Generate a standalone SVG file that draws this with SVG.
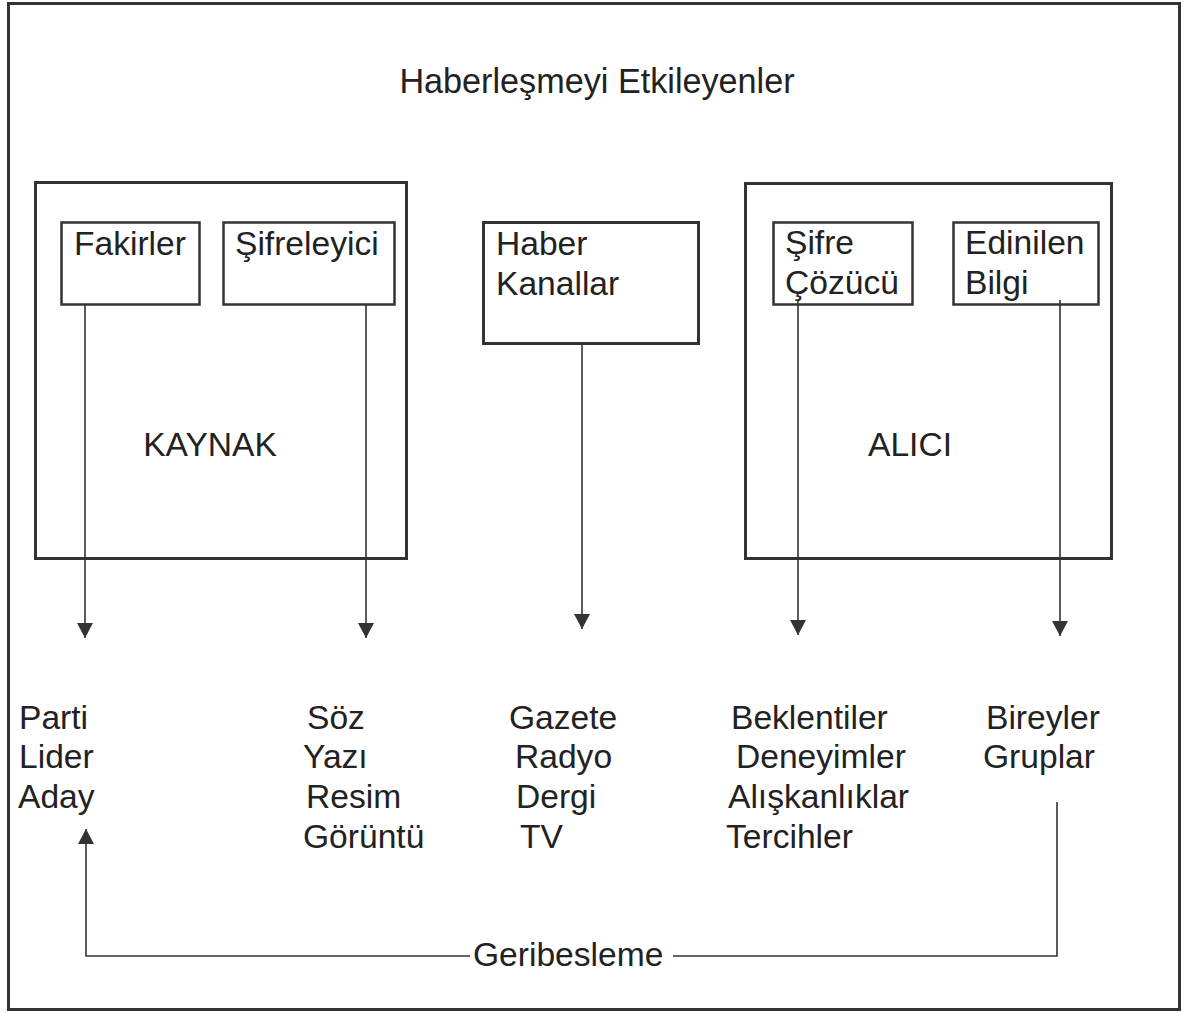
<svg xmlns="http://www.w3.org/2000/svg" width="1187" height="1014" viewBox="0 0 1187 1014">
<style>
text{font-family:"Liberation Sans",Arial,sans-serif;font-size:33.6px;fill:#222}
.box{fill:none;stroke:#333;stroke-width:3}
.ibox{fill:none;stroke:#333;stroke-width:2.5}
.ln{fill:none;stroke:#333;stroke-width:1.6}
</style>
<defs>
<marker id="ah" viewBox="0 0 15 16" refX="15" refY="8" markerWidth="15" markerHeight="16" markerUnits="userSpaceOnUse" orient="auto">
<path d="M0,0 L15,8 L0,16 Z" fill="#333"/>
</marker>
</defs>
<rect width="1187" height="1014" fill="#fff"/>
<rect class="box" x="8.5" y="3.5" width="1171" height="1006"/>
<text x="597" y="93" text-anchor="middle" style="font-size:34.2px">Haberleşmeyi Etkileyenler</text>

<g id="kaynak">
<rect class="box" x="35.5" y="182.5" width="371" height="376"/>
<text x="210" y="456" text-anchor="middle">KAYNAK</text>
</g>
<g id="fakirler">
<rect class="ibox" x="61.5" y="222.5" width="138" height="82"/>
<text x="74" y="255">Fakirler</text>
</g>
<g id="sifreleyici">
<rect class="ibox" x="223.5" y="222.5" width="171" height="82"/>
<text x="235" y="255">Şifreleyici</text>
</g>
<g id="haber-kanallar">
<rect class="box" x="483.5" y="222.5" width="215" height="121"/>
<text x="496" y="255">Haber</text>
<text x="496" y="295">Kanallar</text>
</g>
<g id="alici">
<rect class="box" x="745.5" y="183.5" width="366" height="375"/>
<text x="910" y="456" text-anchor="middle">ALICI</text>
</g>
<g id="sifre-cozucu">
<rect class="ibox" x="773.5" y="222.5" width="139" height="82"/>
<text x="785" y="254">Şifre</text>
<text x="785" y="294">Çözücü</text>
</g>
<g id="edinilen-bilgi">
<rect class="ibox" x="953.5" y="222.5" width="145" height="82"/>
<text x="965" y="254">Edinilen</text>
<text x="965" y="294">Bilgi</text>
</g>

<g id="kaynak-list">
<text x="19" y="729">Parti</text>
<text x="19" y="768">Lider</text>
<text x="18" y="808">Aday</text>
</g>
<g id="mesaj-list">
<text x="307" y="729">Söz</text>
<text x="303" y="768">Yazı</text>
<text x="306" y="808">Resim</text>
<text x="303" y="848">Görüntü</text>
</g>
<g id="kanal-list">
<text x="509" y="729">Gazete</text>
<text x="515" y="768">Radyo</text>
<text x="516" y="808">Dergi</text>
<text x="520" y="848">TV</text>
</g>
<g id="alici-list">
<text x="731" y="729">Beklentiler</text>
<text x="736" y="768">Deneyimler</text>
<text x="728" y="808">Alışkanlıklar</text>
<text x="726" y="848">Tercihler</text>
</g>
<g id="bilgi-list">
<text x="986" y="729">Bireyler</text>
<text x="983" y="768">Gruplar</text>
</g>

<g id="connectors">
<line class="ln" x1="85" y1="304" x2="85" y2="638" marker-end="url(#ah)"/>
<line class="ln" x1="366" y1="304" x2="366" y2="638" marker-end="url(#ah)"/>
<line class="ln" x1="582" y1="343" x2="582" y2="629" marker-end="url(#ah)"/>
<line class="ln" x1="798" y1="300" x2="798" y2="635" marker-end="url(#ah)"/>
<line class="ln" x1="1060" y1="300" x2="1060" y2="636" marker-end="url(#ah)"/>
<polyline class="ln" points="1057,802 1057,956 673,956"/>
<polyline class="ln" points="470,956 86,956 86,829" marker-end="url(#ah)"/>
<text x="473" y="966">Geribesleme</text>
</g>
</svg>
